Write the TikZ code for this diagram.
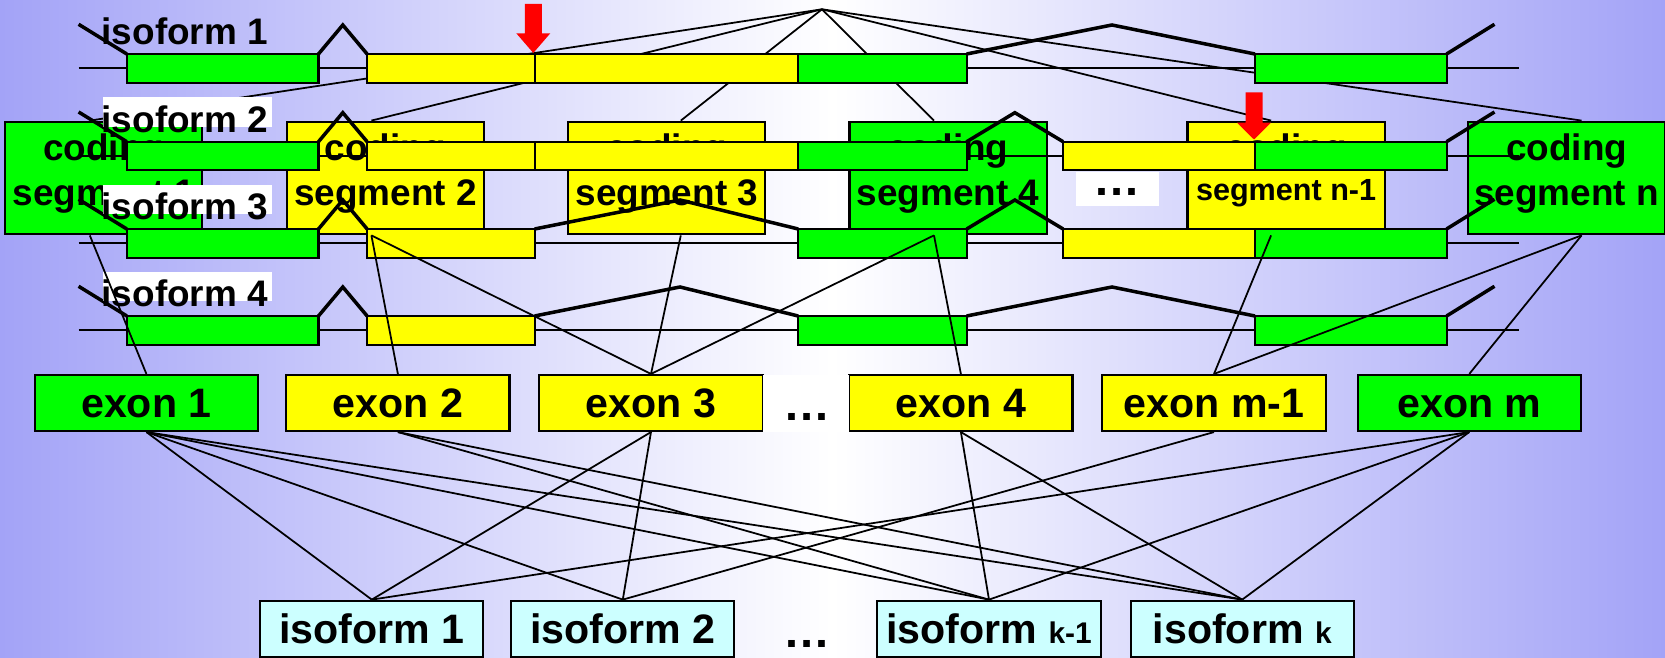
\documentclass[tikz,border=0pt]{standalone}
\usepackage{graphicx}
\usepackage{fontspec}
\setmainfont{Liberation Sans}

\definecolor{slideblue}{RGB}{163,163,247}
\definecolor{exgreen}{RGB}{0,255,0}
\definecolor{exyellow}{RGB}{255,255,0}
\definecolor{isocyan}{RGB}{204,255,255}

\newcommand{\seglabel}[1]{\begin{tabular}{@{}c@{}}coding\\#1\end{tabular}}

\begin{document}
\begin{tikzpicture}[x=0.01cm, y=-0.01cm,
		box/.style={draw=black, line width=0.6pt, inner sep=0pt},
		segment/.style={box, minimum width=1.97cm, minimum height=1.126cm,
			text height=3.4pt, text depth=0pt,
			font=\bfseries\fontsize{10.5}{12.8}\selectfont},
		exon/.style={box, minimum width=2.23cm, minimum height=0.56cm,
			text height=8.4pt, text depth=0pt,
			font=\bfseries\fontsize{11.7}{14}\selectfont},
		isobox/.style={exon, fill=isocyan},
		rowlabel/.style={anchor=base west, inner sep=0pt,
			font=\bfseries\fontsize{10.5}{12.5}\selectfont},
		dotmark/.style={anchor=base, inner sep=0pt,
			font=\bfseries\fontsize{13.4}{14}\selectfont},
		link/.style={line width=0.5pt},
		intron/.style={line width=1pt},
		bar/.style={draw=black, line width=0.6pt}]
		
		\useasboundingbox (0,0) rectangle (1665,658);
		\shade[left color=slideblue, right color=slideblue, middle color=white]
			(0,0) rectangle (1665,658);
		
		\coordinate (hub) at (822,9.3);
		\node[segment, fill=exgreen] (cs1) at (103.8,178) {\seglabel{segment 1}};
		\node[segment, fill=exyellow] (cs2) at (385.4,178) {\seglabel{segment 2}};
		\node[segment, fill=exyellow] (cs3) at (666.8,178) {\seglabel{segment 3}};
		\node[segment, fill=exgreen] (cs4) at (948,178) {\seglabel{segment 4}};
		\node[segment, fill=exyellow] (csn1) at (1286.1,178)
			{\seglabel{\raisebox{1.5pt}{\fontsize{8.7}{10}\selectfont segment n-1}}};
		\node[segment, fill=exgreen] (csn) at (1566.6,178) {\seglabel{segment n}};
		
		\foreach \c/\dx in {cs1/-14,cs2/-14,cs3/14,cs4/-14,csn1/-15,csn/15} {
			\coordinate (\c-top) at ([xshift=\dx*0.01cm]\c.north);
			\coordinate (\c-bot) at ([xshift=\dx*0.01cm]\c.south);
			\draw[link] (hub) -- (\c-top);
		}
		
		\foreach \t in {54,141.7,229,316} {
			\draw[link] (78.6,\t+14.3) -- (1518.7,\t+14.3);
			\foreach \xa/\xb/\col in {126.8/318.5/exgreen,367.1/534.6/exyellow,
				798.2/966.7/exgreen,1254.9/1446.6/exgreen}
				\draw[bar, fill=\col] (\xa,\t) rectangle (\xb,\t+28.6);
			\draw[intron] (78.6,\t-29.7) -- (126.8,\t);
			\draw[intron] (318.5,\t) -- (342.8,\t-29) -- (367.1,\t);
			\draw[intron] (1446.6,\t) -- (1494.5,\t-29.7);
		}
		\foreach \t in {54,141.7}
			\draw[bar, fill=exyellow] (534.6,\t) rectangle (798.2,\t+28.6);
		\foreach \t in {229,316}
			\draw[intron] (534.6,\t) -- (680,\t-29) -- (798.2,\t);
		\foreach \t in {141.7,229} {
			\draw[bar, fill=exyellow] (1063.1,\t) rectangle (1254.9,\t+28.6);
			\draw[intron] (966.7,\t) -- (1014.9,\t-29) -- (1063.1,\t);
		}
		\foreach \t in {54,316}
			\draw[intron] (966.7,\t) -- (1112,\t-29) -- (1254.9,\t);
		
		\node[rowlabel] (lab1) at (101,45) {isoform 1};
		\foreach \t/\n in {141.7/2,229/3,316/4} {
			\fill[white] (102.9,\t-44.4) rectangle (272,\t-15);
			\node[rowlabel] (lab\n) at (101,\t-9) {isoform \n};
		}
		
		\fill[white] (1075.7,171.7) rectangle (1159.4,205.7);
		\node[dotmark] (dotsA) at (1117,196) {…};
		
		\node[exon, fill=exgreen] (e1) at (146.4,403) {exon 1};
		\node[exon, fill=exyellow] (e2) at (397.9,403) {exon 2};
		\node[exon, fill=exyellow] (e3) at (651,403) {exon 3};
		\node[exon, fill=exyellow] (e4) at (960.9,403) {exon 4};
		\node[exon, fill=exyellow] (em1) at (1214,403) {exon m-1};
		\node[exon, fill=exgreen] (em) at (1469.3,403) {exon m};
		\fill[white] (763,375) rectangle (849,432);
		\node[dotmark] (dotsB) at (807.5,421) {…};
		
		\foreach \c/\e in {cs1/e1,cs2/e2,cs2/e3,cs3/e3,cs4/e3,cs4/e4,csn1/em1,csn/em1,csn/em}
			\draw[link] (\c-bot) -- (\e.north);
		
		\node[isobox] (i1) at (371.8,628.7) {isoform 1};
		\node[isobox] (i2) at (622.8,628.7) {isoform 2};
		\node[isobox] (ik1) at (989,628.7) {isoform {\fontsize{8.5}{10}\selectfont k-1}};
		\node[isobox] (ik) at (1242.2,628.7) {isoform {\fontsize{8.5}{10}\selectfont k}};
		\node[dotmark] (dotsC) at (807.5,647.3) {…};
		
		\foreach \e/\i in {e1/i1,e1/i2,e1/ik1,e1/ik,e2/ik1,e2/ik,e3/i1,e3/i2,
			e4/ik1,e4/ik,em1/i2,em/i1,em/ik1,em/ik}
			\draw[link] (\e.south) -- (\i.north);
		
		\foreach \x/\ya/\yb/\yc in {533.3/4/33.3/53,1254/92.3/122.7/139.5}
			\fill[red] (\x-8.5,\ya) -- (\x+8.5,\ya) -- (\x+8.5,\yb) -- (\x+17,\yb)
				-- (\x,\yc) -- (\x-17,\yb) -- (\x-8.5,\yb) -- cycle;
		
	\end{tikzpicture}
\end{document}
